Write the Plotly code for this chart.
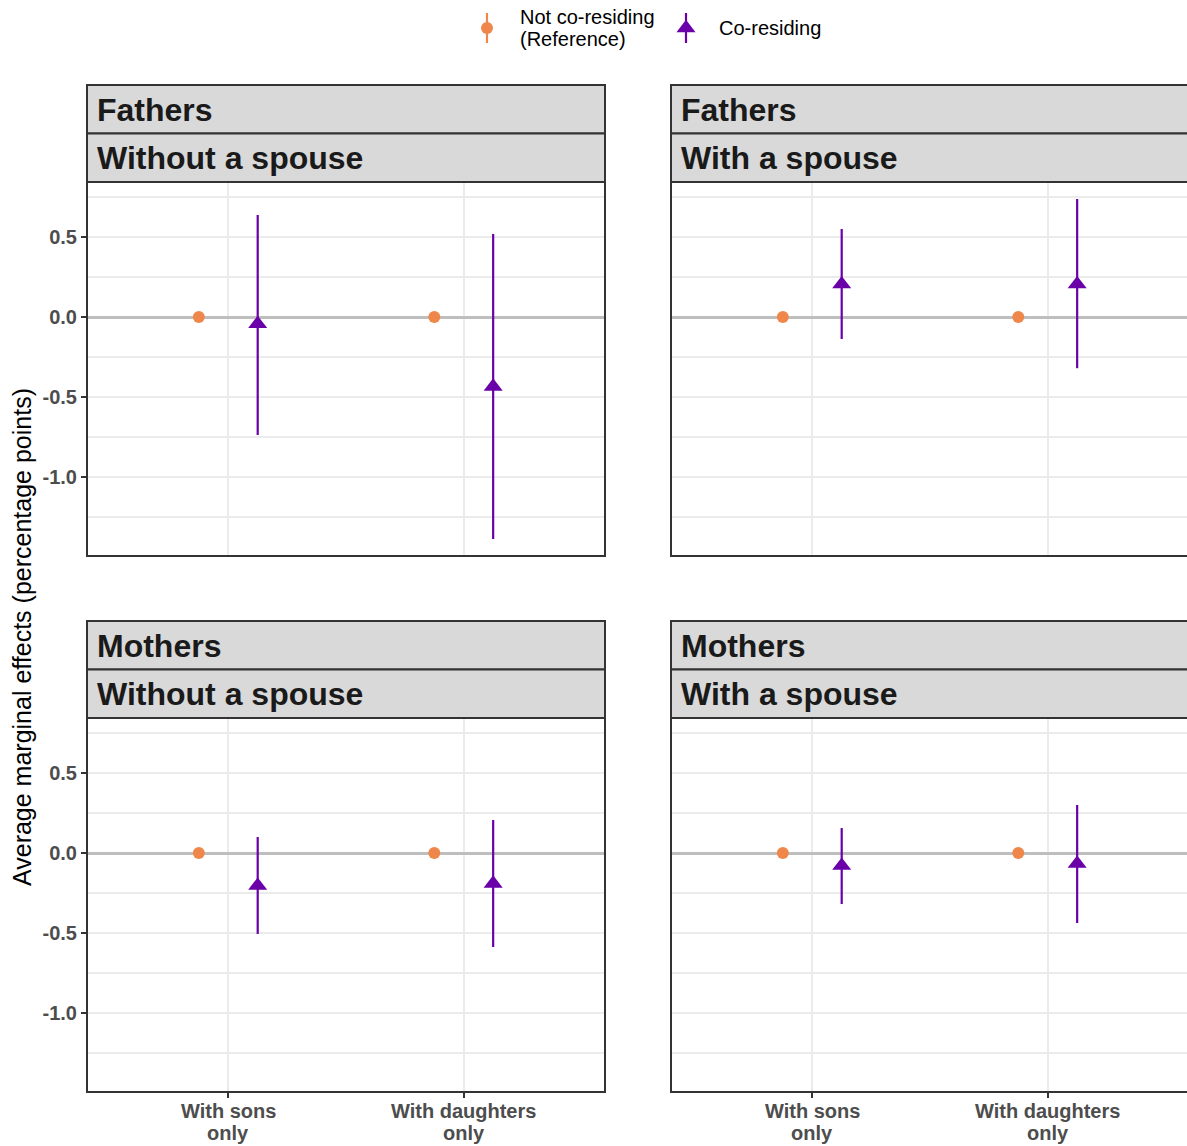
import plotly.graph_objects as go

W, H = 1187, 1146

# ---- data -------------------------------------------------------------
categories = ["With sons\nonly", "With daughters\nonly"]
panel_parent = ["Fathers", "Fathers", "Mothers", "Mothers"]
panel_spouse = ["Without a spouse", "With a spouse", "Without a spouse", "With a spouse"]

# Co-residing: average marginal effect and 95% CI bounds (percentage points)
cores_est = [[-0.043, -0.435], [0.205, 0.205], [-0.204, -0.191], [-0.079, -0.067]]
cores_hi = [[0.6375, 0.519], [0.55, 0.7375], [0.10, 0.206], [0.156, 0.30]]
cores_lo = [[-0.7375, -1.3875], [-0.1375, -0.32], [-0.506, -0.5875], [-0.319, -0.4375]]
# Not co-residing is the reference category (fixed at zero)
ref_est = [[0.0, 0.0], [0.0, 0.0], [0.0, 0.0], [0.0, 0.0]]

y_tick_vals = [-1.0, -0.5, 0.0, 0.5]
y_tick_text = ["-1.0", "-0.5", "0.0", "0.5"]
y_minor_vals = [-1.25, -0.75, -0.25, 0.25, 0.75]

legend_labels = ["Not co-residing", "(Reference)", "Co-residing"]
y_title = "Average marginal effects (percentage points)"

# ---- styling ----------------------------------------------------------
ORANGE = "#EF874B"
PURPLE = "#6A00A8"
FONT = "Liberation Sans, Arial, sans-serif"
BORDER = "#333333"
GRID = "#EBEBEB"
TICK_FONT = dict(family=FONT, size=20, color="#4D4D4D", weight="bold")

DODGE = 0.125
panel_w = 518
unit_px = panel_w / 2.2          # discrete axis: 0.6 expansion each side
col_x0 = [87, 671]
row_top = [182, 718]
panel_h = 374
strip_h = 48.5
y_range = [-1.49375, 0.84375]

fig = go.Figure()
shapes = []
annotations = []


def px_x(p):
    return p / W


def px_y(p):
    return 1 - p / H


for i in range(4):
    r, c = divmod(i, 2)
    ax = "" if i == 0 else str(i + 1)
    x0 = col_x0[c]
    x1 = min(x0 + panel_w, W)
    top = row_top[r]
    bot = top + panel_h
    xr = [0.4, 0.4 + (x1 - x0) / unit_px]

    xpos = list(range(1, len(categories) + 1))
    fig.add_trace(go.Scatter(
        x=[p - DODGE for p in xpos], y=ref_est[i],
        mode="markers", xaxis="x" + ax, yaxis="y" + ax,
        marker=dict(symbol="circle", size=12, color=ORANGE),
        showlegend=False, hoverinfo="skip",
    ))
    fig.add_trace(go.Scatter(
        x=[p + DODGE for p in xpos], y=cores_est[i],
        mode="markers", xaxis="x" + ax, yaxis="y" + ax,
        marker=dict(symbol="triangle-up", size=16.5, color=PURPLE),
        error_y=dict(
            type="data", symmetric=False,
            array=[h - e for h, e in zip(cores_hi[i], cores_est[i])],
            arrayminus=[e - l for l, e in zip(cores_lo[i], cores_est[i])],
            color=PURPLE, thickness=2.2, width=0,
        ),
        showlegend=False, hoverinfo="skip",
    ))

    left = c == 0
    bottom = r == 1
    fig.update_layout(**{
        "xaxis" + ax: dict(
            domain=[px_x(x0), px_x(x1)], range=xr, anchor="y" + ax,
            tickvals=xpos, showticklabels=False,
            ticks="outside" if bottom else "",
            ticklen=5, tickwidth=2, tickcolor=BORDER,
            showgrid=True, gridcolor=GRID, gridwidth=2,
            zeroline=False, showline=False, fixedrange=True, automargin=False,
        ),
        "yaxis" + ax: dict(
            domain=[px_y(bot), px_y(top)], range=y_range, anchor="x" + ax,
            tickvals=y_tick_vals, ticktext=y_tick_text,
            showticklabels=left, ticks="outside" if left else "",
            ticklen=5, tickwidth=2, tickcolor=BORDER, tickfont=TICK_FONT,
            showgrid=True, gridcolor=GRID, gridwidth=1.8,
            minor=dict(tickvals=y_minor_vals, showgrid=True,
                       gridcolor=GRID, gridwidth=1.6, ticks=""),
            zeroline=True, zerolinecolor="#BEBEBE", zerolinewidth=2.5,
            showline=False, fixedrange=True, automargin=False,
        ),
    })

    # category labels under the bottom panels, one annotation per text line
    if bottom:
        for p, cat in zip(xpos, categories):
            for k, line in enumerate(cat.split("\n")):
                annotations.append(dict(
                    text=line, xref="x" + ax, yref="paper",
                    x=p, y=px_y(bot + 19 + 22 * k),
                    xanchor="center", yanchor="middle", showarrow=False,
                    font=TICK_FONT,
                ))

    # panel border
    shapes.append(dict(type="rect", xref="paper", yref="paper", layer="above",
                       x0=px_x(x0), x1=px_x(x0 + panel_w), y0=px_y(bot), y1=px_y(top),
                       line=dict(color=BORDER, width=2), fillcolor="rgba(0,0,0,0)"))
    # two stacked facet strips
    labels = [panel_parent[i], panel_spouse[i]]
    for k, lab in enumerate(labels):
        s_top = top - strip_h * (2 - k)
        s_bot = s_top + strip_h
        shapes.append(dict(type="rect", xref="paper", yref="paper", layer="above",
                           x0=px_x(x0), x1=px_x(x0 + panel_w),
                           y0=px_y(s_bot), y1=px_y(s_top),
                           line=dict(color=BORDER, width=2), fillcolor="#D9D9D9"))
        annotations.append(dict(
            text=lab, xref="paper", yref="paper",
            x=px_x(x0 + 8), y=px_y((s_top + s_bot) / 2 + 0.5),
            xanchor="left", yanchor="middle", showarrow=False,
            font=dict(family=FONT, size=32, color="#1A1A1A", weight="bold"),
        ))

# ---- legend (drawn in its own pixel-unit axis at the top) -------------
fig.add_trace(go.Scatter(
    x=[487], y=[28], mode="markers", xaxis="x5", yaxis="y5",
    marker=dict(symbol="circle", size=12, color=ORANGE),
    error_y=dict(type="data", array=[15], color=ORANGE, thickness=2.2, width=0),
    showlegend=False, hoverinfo="skip",
))
fig.add_trace(go.Scatter(
    x=[686], y=[28], mode="markers", xaxis="x5", yaxis="y5",
    marker=dict(symbol="triangle-up", size=16.5, color=PURPLE),
    error_y=dict(type="data", array=[15], color=PURPLE, thickness=2.2, width=0),
    showlegend=False, hoverinfo="skip",
))
fig.update_layout(
    xaxis5=dict(domain=[0, 1], range=[0, W], anchor="y5", visible=False,
                fixedrange=True, automargin=False),
    yaxis5=dict(domain=[px_y(60), 1], range=[60, 0], anchor="x5", visible=False,
                fixedrange=True, automargin=False),
)
for lab, xx, yy in zip(legend_labels, [518, 518, 717], [17, 39, 28]):
    annotations.append(dict(
        text=lab, xref="paper", yref="paper", x=px_x(xx), y=px_y(yy),
        xanchor="left", yanchor="middle", showarrow=False,
        font=dict(family=FONT, size=20, color="#000000"),
    ))

# y-axis title
annotations.append(dict(
    text=y_title, xref="paper", yref="paper", x=px_x(22), y=px_y(637),
    xanchor="center", yanchor="middle", textangle=-90, showarrow=False,
    font=dict(family=FONT, size=25, color="#000000"),
))

fig.update_layout(
    width=W, height=H,
    margin=dict(l=0, r=0, t=0, b=0, autoexpand=False),
    paper_bgcolor="white", plot_bgcolor="white",
    shapes=shapes, annotations=annotations,
    showlegend=False,
)

fig.write_html("out.html")
